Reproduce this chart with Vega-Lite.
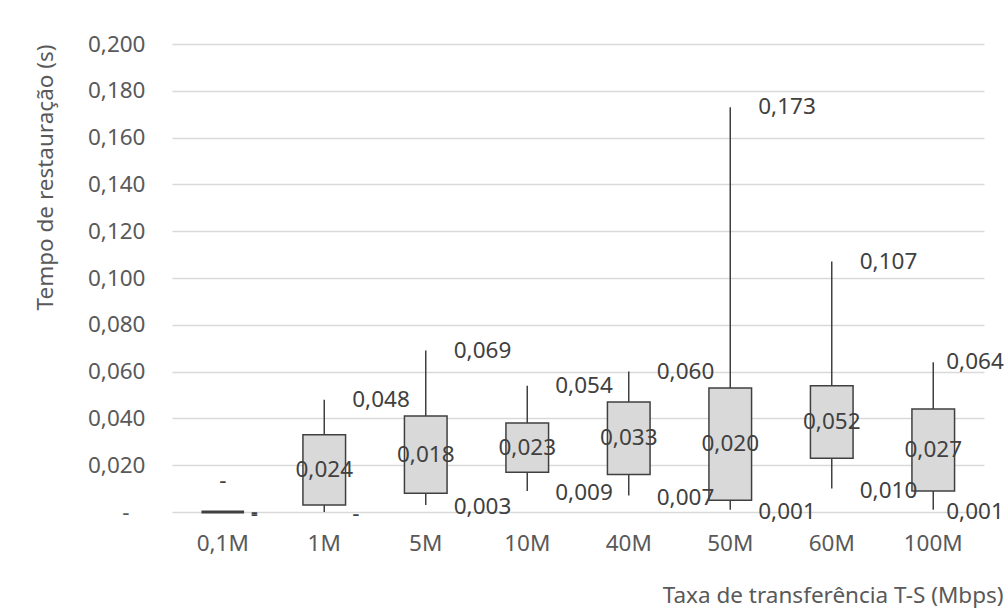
{
  "$schema": "https://vega.github.io/schema/vega-lite/v6.json",
  "width": 812,
  "height": 468,
  "autosize": {"type": "none"},
  "padding": {"left": 172, "top": 44, "right": 23, "bottom": 102},
  "background": "white",
  "config": {
    "locale": {"number": {"decimal": ",", "thousands": ".", "grouping": [3], "currency": ["", ""]}},
    "font": "Noto Sans",
    "view": {"stroke": null},
    "axis": {"labelFont": "Noto Sans", "titleFont": "Noto Sans", "labelFontSize": 22.5, "titleFontSize": 22.5, "labelColor": "#595959", "titleColor": "#595959", "titleFontWeight": "normal"}
  },
  "data": {
    "values": [
      {"cat": "0,1M", "low": 0, "q1": 0, "q3": 0, "high": 0, "mid": 0},
      {"cat": "1M", "low": 0, "q1": 0.003, "q3": 0.033, "high": 0.048, "mid": 0.024},
      {"cat": "5M", "low": 0.003, "q1": 0.008, "q3": 0.041, "high": 0.069, "mid": 0.018},
      {"cat": "10M", "low": 0.009, "q1": 0.017, "q3": 0.038, "high": 0.054, "mid": 0.023},
      {"cat": "40M", "low": 0.007, "q1": 0.016, "q3": 0.047, "high": 0.060, "mid": 0.033},
      {"cat": "50M", "low": 0.001, "q1": 0.005, "q3": 0.053, "high": 0.173, "mid": 0.020},
      {"cat": "60M", "low": 0.010, "q1": 0.023, "q3": 0.054, "high": 0.107, "mid": 0.052},
      {"cat": "100M", "low": 0.001, "q1": 0.009, "q3": 0.044, "high": 0.064, "mid": 0.027}
    ]
  },
  "transform": [{"calculate": "(datum.q1 + datum.q3) / 2", "as": "boxCenter"}],
  "encoding": {
    "x": {
      "field": "cat", "type": "nominal", "sort": null,
      "scale": {"paddingInner": 0, "paddingOuter": 0},
      "axis": {
        "title": "Taxa de transferência T-S (Mbps)",
        "labelAngle": 0, "domain": false, "ticks": false, "labelPadding": 20,
        "titleAnchor": "end", "titleAlign": "right", "titleBaseline": "middle",
        "titleX": 831, "titleY": 83
      }
    }
  },
  "layer": [
    {
      "mark": {"type": "rule", "color": "#404040", "strokeWidth": 1.5},
      "encoding": {
        "y": {
          "field": "low", "type": "quantitative",
          "scale": {"domain": [0, 0.2], "nice": false},
          "axis": {
            "title": "Tempo de restauração (s)",
            "format": ".3f", "values": [0, 0.02, 0.04, 0.06, 0.08, 0.1, 0.12, 0.14, 0.16, 0.18, 0.2],
            "labelOverlap": false,
            "labelExpr": "datum.value == 0 ? '-' : datum.label",
            "labelPadding": {"condition": {"test": "datum.value == 0", "value": 43}, "value": 27},
            "domain": false, "ticks": false,
            "grid": true, "gridColor": "#d9d9d9", "gridWidth": 1.3,
            "titleAngle": 270, "titleAlign": "right", "titleBaseline": "middle",
            "titleX": -127, "titleY": 0
          }
        },
        "y2": {"field": "high"}
      }
    },
    {
      "mark": {"type": "bar", "fill": "#d9d9d9", "stroke": "#404040", "width": {"band": 0.42}},
      "encoding": {
        "y": {"field": "q1", "type": "quantitative"},
        "y2": {"field": "q3"},
        "strokeWidth": {"condition": {"test": "datum.q3 == datum.q1", "value": 3}, "value": 1.5}
      }
    },
    {
      "transform": [{"filter": "datum.cat != '100M'"}],
      "mark": {"type": "text", "align": "left", "baseline": "middle", "dx": 28, "fontSize": 22.5, "color": "#404040", "font": "Noto Sans"},
      "encoding": {
        "y": {"field": "high", "type": "quantitative"},
        "text": {"condition": {"test": "datum.high == 0", "value": "-"}, "field": "high", "format": ".3f"}
      }
    },
    {
      "transform": [{"filter": "datum.cat == '100M'"}],
      "mark": {"type": "text", "align": "left", "baseline": "middle", "dx": 13, "fontSize": 22.5, "color": "#404040", "font": "Noto Sans"},
      "encoding": {
        "y": {"field": "high", "type": "quantitative"},
        "text": {"field": "high", "format": ".3f"}
      }
    },
    {
      "transform": [{"filter": "datum.cat != '100M'"}],
      "mark": {"type": "text", "align": "left", "baseline": "middle", "dx": 28, "dy": 2, "fontSize": 22.5, "color": "#404040", "font": "Noto Sans"},
      "encoding": {
        "y": {"field": "low", "type": "quantitative"},
        "text": {"condition": {"test": "datum.low == 0", "value": "-"}, "field": "low", "format": ".3f"}
      }
    },
    {
      "transform": [{"filter": "datum.cat == '100M'"}],
      "mark": {"type": "text", "align": "left", "baseline": "middle", "dx": 13, "dy": 2, "fontSize": 22.5, "color": "#404040", "font": "Noto Sans"},
      "encoding": {
        "y": {"field": "low", "type": "quantitative"},
        "text": {"field": "low", "format": ".3f"}
      }
    },
    {
      "transform": [{"filter": "datum.mid != 0"}],
      "mark": {"type": "text", "align": "center", "baseline": "middle", "fontSize": 22.5, "color": "#404040", "font": "Noto Sans"},
      "encoding": {
        "y": {"field": "boxCenter", "type": "quantitative"},
        "text": {"field": "mid", "format": ".3f"}
      }
    },
    {
      "transform": [{"filter": "datum.mid == 0"}],
      "mark": {"type": "text", "align": "center", "baseline": "middle", "dy": -31, "fontSize": 22.5, "color": "#404040", "font": "Noto Sans"},
      "encoding": {
        "y": {"field": "boxCenter", "type": "quantitative"},
        "text": {"value": "-"}
      }
    }
  ]
}
